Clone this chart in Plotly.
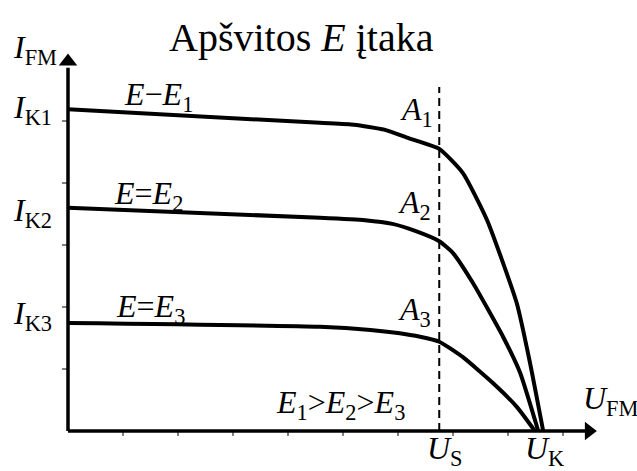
import plotly.graph_objects as go

# Photocell I-V characteristics for three illumination levels (E1 > E2 > E3)
u_e1 = [0, 4.58, 5.20, 5.75, 6.20, 6.75, 7.18, 7.62, 8.16, 8.40, 8.64]
i_e1 = [5.19, 4.97, 4.94, 4.86, 4.72, 4.55, 4.16, 3.40, 2.06, 1.10, 0.0]

u_e2 = [0, 4.58, 5.40, 5.90, 6.30, 6.75, 7.00, 7.36, 7.91, 8.22, 8.55]
i_e2 = [3.60, 3.44, 3.40, 3.34, 3.23, 3.06, 2.87, 2.39, 1.52, 0.94, 0.0]

u_e3 = [0, 4.58, 5.50, 6.00, 6.40, 6.75, 7.18, 7.73, 8.16, 8.49]
i_e3 = [1.74, 1.68, 1.63, 1.58, 1.52, 1.44, 1.19, 0.77, 0.39, 0.0]

u_s = 6.75          # operating voltage (dashed line)
x_ticks = [1, 2, 3, 4, 5, 6, 7, 8, 9]
y_ticks = [1, 2, 3, 4, 5]
x_axis_end = 9.67
y_axis_end = 6.11
dash_top = 5.55

FONT = "Liberation Serif"
fig = go.Figure()

for u, i in [(u_e1, i_e1), (u_e2, i_e2), (u_e3, i_e3)]:
    fig.add_trace(go.Scatter(x=u, y=i, mode="lines",
                             line=dict(color="black", width=4, shape="spline", smoothing=0.5),
                             hoverinfo="skip", showlegend=False))

# dashed vertical at U_S
fig.add_trace(go.Scatter(x=[u_s, u_s], y=[0, dash_top], mode="lines",
                         line=dict(color="black", width=2, dash="8px,5px"),
                         hoverinfo="skip", showlegend=False))

# axes with arrowheads
fig.add_trace(go.Scatter(x=[0, x_axis_end - 0.25], y=[0, 0], mode="lines",
                         line=dict(color="black", width=3.5), hoverinfo="skip", showlegend=False))
fig.add_trace(go.Scatter(x=[0, 0], y=[0, y_axis_end - 0.25], mode="lines",
                         line=dict(color="black", width=3.5), hoverinfo="skip", showlegend=False))
fig.add_trace(go.Scatter(x=[x_axis_end - 0.2], y=[0], mode="markers",
                         marker=dict(symbol="triangle-right", size=16, color="black"),
                         hoverinfo="skip", showlegend=False))
fig.add_trace(go.Scatter(x=[0], y=[y_axis_end - 0.15], mode="markers",
                         marker=dict(symbol="triangle-up", size=16, color="black"),
                         hoverinfo="skip", showlegend=False))

# small tick marks
shapes = []
for t in x_ticks:
    shapes.append(dict(type="line", x0=t, x1=t, y0=0, y1=-0.08, xref="x", yref="y",
                       line=dict(color="black", width=1)))
for t in y_ticks:
    shapes.append(dict(type="line", x0=-0.11, x1=0, y0=t, y1=t, xref="x", yref="y",
                       line=dict(color="black", width=1)))

def lab(text, x, y, size=32, xanchor="center", yanchor="middle"):
    return dict(text=text, x=x, y=y, xref="x", yref="y", showarrow=False,
                xanchor=xanchor, yanchor=yanchor,
                font=dict(family=FONT, size=size, color="black"))

annotations = [
    lab("Apšvitos <i>E</i> įtaka", 4.24, 6.34, size=40),
    lab("<i>I</i><sub>FM</sub>", -1.04, 6.15, xanchor="left"),
    lab("<i>I</i><sub>K1</sub>", -1.04, 5.18, xanchor="left"),
    lab("<i>I</i><sub>K2</sub>", -1.04, 3.52, xanchor="left"),
    lab("<i>I</i><sub>K3</sub>", -1.04, 1.87, xanchor="left"),
    lab("<i>E</i>−<i>E</i><sub>1</sub>", 0.98, 5.39, xanchor="left"),
    lab("<i>E</i>=<i>E</i><sub>2</sub>", 0.80, 3.80, xanchor="left"),
    lab("<i>E</i>=<i>E</i><sub>3</sub>", 0.83, 1.98, xanchor="left"),
    lab("<i>A</i><sub>1</sub>", 6.68, 5.15, xanchor="right"),
    lab("<i>A</i><sub>2</sub>", 6.63, 3.65, xanchor="right"),
    lab("<i>A</i><sub>3</sub>", 6.63, 1.92, xanchor="right"),
    lab("<i>E</i><sub>1</sub>><i>E</i><sub>2</sub>><i>E</i><sub>3</sub>", 3.74, 0.42, xanchor="left"),
    lab("<i>U</i><sub>FM</sub>", 9.33, 0.50, xanchor="left"),
    lab("<i>U</i><sub>S</sub>", 6.85, -0.31),
    lab("<i>U</i><sub>K</sub>", 8.67, -0.31),
]

fig.update_layout(
    width=637, height=471,
    margin=dict(l=0, r=0, t=0, b=0),
    paper_bgcolor="white", plot_bgcolor="white",
    xaxis=dict(range=[-68 / 55, 569 / 55], visible=False, fixedrange=True),
    yaxis=dict(range=[-40 / 62, 431 / 62], visible=False, fixedrange=True),
    shapes=shapes, annotations=annotations,
)

fig.write_html("out.html")
